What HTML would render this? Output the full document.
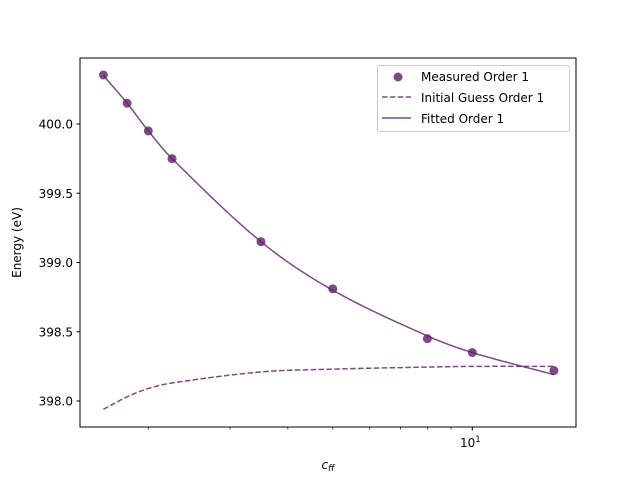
<!DOCTYPE html>
<html><head><meta charset="utf-8"><style>
body{margin:0;background:#fff}
svg{display:block;font-family:"DejaVu Sans","Liberation Sans",sans-serif}
</style></head><body>
<svg id="chart" width="640" height="480" viewBox="0 0 640 480" xmlns="http://www.w3.org/2000/svg">
<rect x="0" y="0" width="640" height="480" fill="#fff"/>
<g id="plot"></g>
<rect x="80" y="58" width="496" height="369" fill="none" stroke="#000" stroke-width="1"/>
<text x="328" y="469" font-size="12" font-style="italic" text-anchor="middle">c<tspan font-size="9" dy="2">ff</tspan></text>
<text transform="translate(21,242.5) rotate(-90)" font-size="12" text-anchor="middle">Energy (eV)</text>
<g>
<rect x="377.5" y="65.5" width="192" height="66" rx="2" fill="#fff" fill-opacity="0.8" stroke="#ccc"/>
<circle cx="398" cy="77" r="4.5" fill="#5c1f66" fill-opacity="0.8"/>
<text x="421" y="81" font-size="12">Measured Order 1</text>
<line x1="382" y1="97" x2="411" y2="97" stroke="#5c1f66" stroke-opacity="0.8" stroke-width="1.5" stroke-dasharray="5.5,2.4"/>
<text x="421" y="102" font-size="12">Initial Guess Order 1</text>
<line x1="382" y1="118" x2="411" y2="118" stroke="#5c1f66" stroke-opacity="0.8" stroke-width="1.5"/>
<text x="421" y="123" font-size="12">Fitted Order 1</text>
</g>
</svg>
<script>
const cValues=[1.6,1.8,2,2.25,3.5,5,8,10,15];
const measured=[400.354,400.15,399.95,399.75,399.15,398.81,398.45,398.35,398.22];
const fitted=[400.35,400.15,399.95,399.75,399.15,398.80,398.47,398.35,398.19];
const guess=[397.94,398.03,398.09,398.13,398.21,398.23,398.245,398.25,398.25];
const yTicks=[398.0,398.5,399.0,399.5,400.0];
const yTickLabels=["398.0","398.5","399.0","399.5","400.0"];
const minorX=[2,3,4,5,6,7,8,9];
const majorX=[10];
const NS='http://www.w3.org/2000/svg';
const g=document.getElementById('plot');
function xs(v){return 472.3+463.5*Math.log10(v/10);}
function ys(v){return 124+(400-v)*138.5;}
function mk(t,a){const e=document.createElementNS(NS,t);for(const k in a)e.setAttribute(k,a[k]);g.appendChild(e);return e;}
function smooth(xv,yv){
  const n=300,lx=xv.map(Math.log10);let pts=[];
  for(let s=0;s<n;s++){const L=lx[0]+(lx[lx.length-1]-lx[0])*s/(n-1);
    let i=0;while(i<lx.length-2&&L>lx[i+1])i++;
    const p0=yv[Math.max(i-1,0)],p1=yv[i],p2=yv[i+1],p3=yv[Math.min(i+2,yv.length-1)];
    const x0=lx[Math.max(i-1,0)],x1=lx[i],x2=lx[i+1],x3=lx[Math.min(i+2,lx.length-1)];
    const t=(L-x1)/(x2-x1);
    const m1=(p2-p0)/(x2-x0)*(x2-x1),m2=(p3-p1)/(x3-x1)*(x2-x1);
    const t2=t*t,t3=t2*t;
    const y=(2*t3-3*t2+1)*p1+(t3-2*t2+t)*m1+(-2*t3+3*t2)*p2+(t3-t2)*m2;
    pts.push(xs(Math.pow(10,L)).toFixed(2)+','+ys(y).toFixed(2));}
  return pts.join(' ');}
yTicks.forEach((v,i)=>{
  const l=mk('line',{x1:76.5,x2:80,y1:ys(v),y2:ys(v),stroke:'#000'});
  
  
  const t=mk('text',{x:73,y:ys(v)+4.5,'font-size':12,'text-anchor':'end'});
  
  
  t.textContent=yTickLabels[i];});
minorX.forEach(v=>{
  const l=mk('line',{x1:xs(v),x2:xs(v),y1:427,y2:429.5,stroke:'#000','stroke-width':0.7});
  
  });
majorX.forEach(v=>{
  const l=mk('line',{x1:xs(v),x2:xs(v),y1:427,y2:430.5,stroke:'#000'});
  
  
  const t=mk('text',{x:xs(v)-2,y:447,'font-size':12,'text-anchor':'middle'});
  
  
  t.innerHTML='10<tspan font-size="8.5" dy="-5">1</tspan>';});
const gl=mk('polyline',{points:smooth(cValues,guess),fill:'none',stroke:'#5c1f66','stroke-opacity':0.8,'stroke-width':1.5,'stroke-dasharray':'5.5,2.4'});


const fl=mk('polyline',{points:smooth(cValues,fitted),fill:'none',stroke:'#5c1f66','stroke-opacity':0.8,'stroke-width':1.5});


cValues.forEach((c,i)=>{
  const p=mk('circle',{cx:xs(c),cy:ys(measured[i]),r:4.5,fill:'#5c1f66','fill-opacity':0.8});
  
  });
</script>
</body></html>
